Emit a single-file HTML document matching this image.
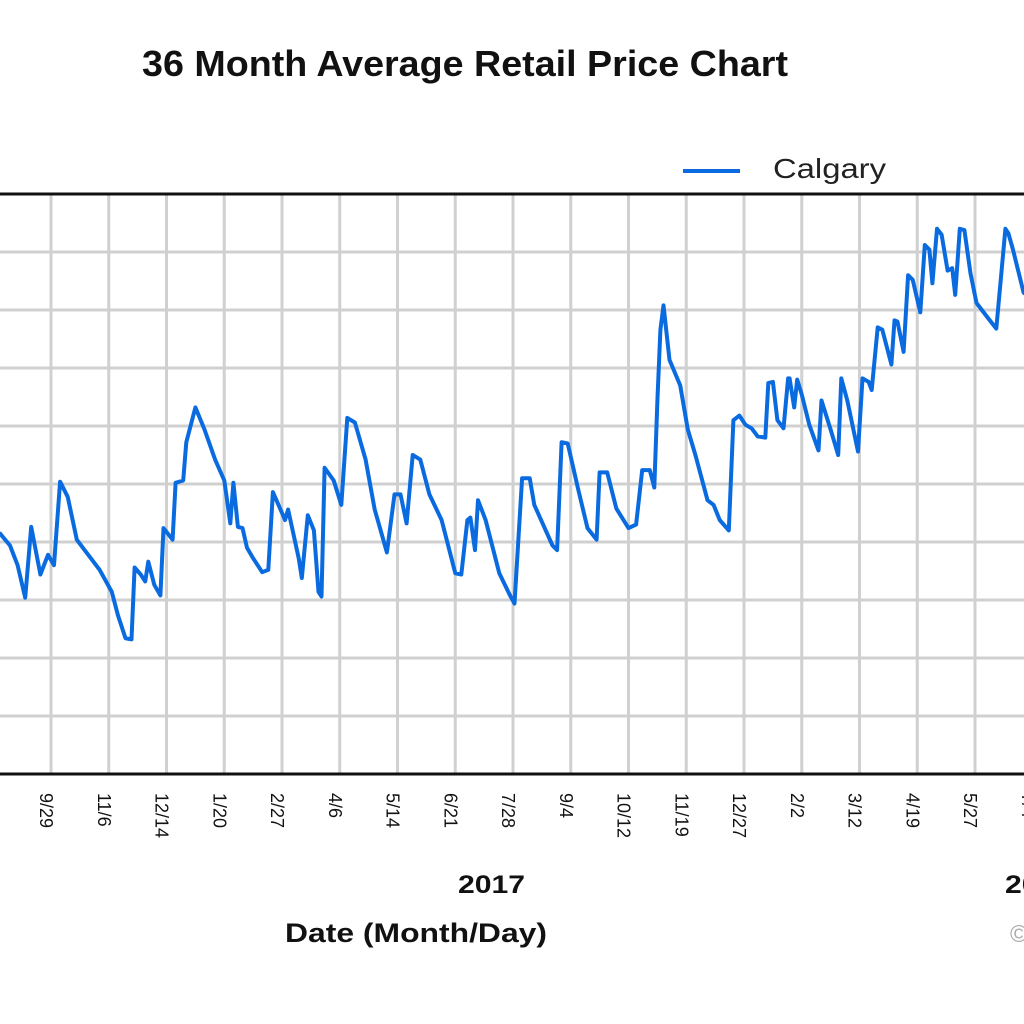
<!DOCTYPE html>
<html><head><meta charset="utf-8"><style>
html,body{margin:0;padding:0;background:#fff;}
svg{display:block;font-family:"Liberation Sans",Arial,sans-serif;}
</style></head><body>
<svg id="chart" width="1024" height="1024" viewBox="0 0 1024 1024">
<text x="142" y="76" font-size="36" font-weight="bold" textLength="646" lengthAdjust="spacingAndGlyphs" fill="#111">36 Month Average Retail Price Chart</text>
<g>
<line x1="683" y1="171" x2="740" y2="171" stroke="#0a6be0" stroke-width="4"/>
<text x="773" y="178" font-size="28" textLength="113" lengthAdjust="spacingAndGlyphs" fill="#222">Calgary</text>
</g>
<g id="grid"></g>
<g id="xlabels"></g>
<g id="series"></g>
<line x1="0" y1="194" x2="1024" y2="194" stroke="#111" stroke-width="3"/>
<line x1="0" y1="774" x2="1024" y2="774" stroke="#111" stroke-width="3"/>
<text x="458" y="893" font-size="25" font-weight="bold" textLength="67" lengthAdjust="spacingAndGlyphs" fill="#111">2017</text>
<text x="1005" y="893" font-size="25" font-weight="bold" textLength="67" lengthAdjust="spacingAndGlyphs" fill="#111">2018</text>
<text x="285" y="942" font-size="27" font-weight="bold" textLength="262" lengthAdjust="spacingAndGlyphs" fill="#111">Date (Month/Day)</text>
<text x="1010" y="942" font-size="24" fill="#aaa">©</text>
</svg>
<script>
const tickLabels = ["8/22","9/29","11/6","12/14","1/20","2/27","4/6","5/14","6/21","7/28","9/4","10/12","11/19","12/27","2/2","3/12","4/19","5/27","7/4"];
const tickDays = [-38,0,38,76,114,152,190,228,266,304,342,380,418,456,494,532,570,608,646];
const gridPrices = [95,100,105,110,115,120,125,130,135,140,145];
const days = [-34,-27,-22,-17,-13,-7,-2,2,6,11,17,21,32,40,44,49,53,55,59,62,64,68,72,74,80,82,87,89,95,101,108,114,118,120,123,126,129,133,139,143,146,151,154,156,163,165,169,173,176,178,180,186,191,195,200,207,213,221,226,230,234,238,243,249,257,266,270,274,276,279,281,286,295,302,305,310,315,318,330,333,336,340,347,353,359,361,366,372,380,385,389,394,397,399,401,403,407,414,419,424,432,436,440,446,449,453,457,461,465,470,472,475,478,482,485,486,489,491,494,499,505,507,513,518,520,524,531,534,538,540,544,547,553,555,557,561,564,567,572,575,578,580,583,586,590,593,595,598,601,605,609,616,622,628,630,633,640,650];
const prices = [115.8,114.7,113.0,110.2,116.3,112.2,113.9,113.0,120.2,118.9,115.2,114.5,112.6,110.7,108.7,106.7,106.6,112.8,112.2,111.6,113.3,111.3,110.4,116.2,115.2,120.1,120.3,123.6,126.6,124.7,122.1,120.3,116.6,120.1,116.3,116.2,114.5,113.6,112.4,112.6,119.3,117.8,116.9,117.8,113.6,111.9,117.3,116.0,110.7,110.3,121.4,120.3,118.2,125.7,125.3,122.1,117.8,114.1,119.1,119.1,116.6,122.5,122.1,119.1,116.9,112.3,112.2,116.9,117.1,114.3,118.6,116.9,112.3,110.4,109.7,120.5,120.5,118.2,114.7,114.3,123.6,123.5,119.5,116.2,115.2,121.0,121.0,117.9,116.2,116.5,121.2,121.2,119.7,127.2,133.3,135.4,130.7,128.5,124.7,122.5,118.6,118.2,116.9,116.0,125.5,125.9,125.1,124.8,124.1,124.0,128.7,128.8,125.5,124.8,129.1,129.1,126.6,129.0,127.7,125.1,122.9,127.2,124.7,122.5,129.1,127.2,122.8,129.1,128.8,128.1,133.5,133.3,130.3,134.1,134.0,131.4,138.0,137.6,134.8,140.6,140.2,137.3,142.0,141.5,138.4,138.6,136.3,142.0,141.9,138.2,135.6,134.4,133.4,142.0,141.6,140.2,136.5,135.5];

const NS = "http://www.w3.org/2000/svg";
function xScale(d){ return 51 + d * 57.75 / 38; }
function yScale(p){ return 774 - (p - 95) * 11.6; }

const grid = document.getElementById('grid');
gridPrices.forEach(function(p){
  const l = document.createElementNS(NS,'line');
  
  
  l.setAttribute('x1',0); l.setAttribute('x2',1024);
  l.setAttribute('y1',yScale(p)); l.setAttribute('y2',yScale(p));
  l.setAttribute('stroke','#d0d0d0'); l.setAttribute('stroke-width','3');
  grid.appendChild(l);
});
const xl = document.getElementById('xlabels');
tickDays.forEach(function(d,i){
  const x = xScale(d);
  const l = document.createElementNS(NS,'line');
  
  
  l.setAttribute('x1',x); l.setAttribute('x2',x);
  l.setAttribute('y1',194); l.setAttribute('y2',774);
  l.setAttribute('stroke','#d0d0d0'); l.setAttribute('stroke-width','3');
  grid.appendChild(l);
  const t = document.createElementNS(NS,'text');
  
  
  t.setAttribute('transform','translate(' + (x - 11) + ',793) rotate(90)');
  t.setAttribute('font-size','18');
  t.setAttribute('fill','#111');
  t.textContent = tickLabels[i];
  xl.appendChild(t);
});
const pts = days.map(function(d,i){ return xScale(d).toFixed(1) + ',' + yScale(prices[i]).toFixed(1); }).join(' ');
const pl = document.createElementNS(NS,'polyline');


pl.setAttribute('points', pts);
pl.setAttribute('fill','none');
pl.setAttribute('stroke','#0a6be0');
pl.setAttribute('stroke-width','4');
pl.setAttribute('stroke-linejoin','round');
document.getElementById('series').appendChild(pl);
</script>
</body></html>
